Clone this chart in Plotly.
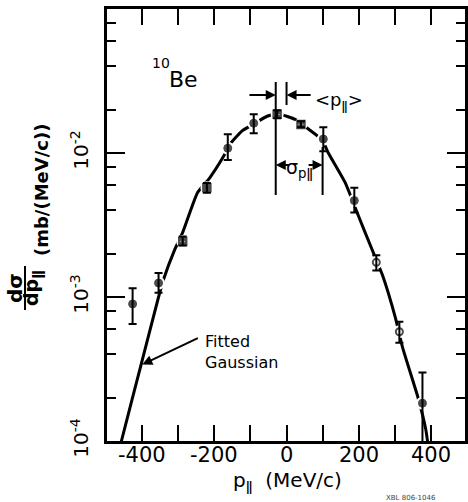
import numpy as np
import plotly.graph_objects as go

# ---- data ----
p_par = [-427, -355, -288, -221, -163, -91, -26, 40, 102, 188, 249, 313, 377]
dsig = [8.95e-4, 1.25e-3, 2.43e-3, 5.74e-3, 1.08e-2, 1.61e-2, 1.86e-2, 1.58e-2, 1.25e-2, 4.67e-3, 1.74e-3, 5.74e-4, 1.83e-4]
dsig_hi = [1.15e-3, 1.47e-3, 2.63e-3, 6.2e-3, 1.35e-2, 1.86e-2, 1.98e-2, 1.66e-2, 1.51e-2, 5.74e-3, 1.95e-3, 6.73e-4, 2.99e-4]
dsig_lo = [6.5e-4, 1.07e-3, 2.28e-3, 5.3e-3, 8.95e-3, 1.37e-2, 1.74e-2, 1.51e-2, 1.03e-2, 3.86e-3, 1.53e-3, 4.82e-4, 0.9e-4]
point_kind = ["dot", "dot", "sq", "sq", "dot", "dot", "sq", "sq", "dot", "dot", "open", "open", "dot"]

curve_x = [-462, -458, -402, -355, -341, -311, -288, -247, -213, -171, -157, -124, -93, -54, -32, -18,
           24, 57, 99, 116, 163, 199, 238, 266, 302, 322, 366, 386, 391, 395]
curve_y = [9.0e-5, 1.0e-4, 3.5e-4, 1.0e-3, 1.33e-3, 2.11e-3, 2.81e-3, 5.3e-3, 6.73e-3, 9.84e-3, 1.15e-2,
           1.42e-2, 1.58e-2, 1.80e-2, 1.86e-2, 1.86e-2, 1.71e-2, 1.49e-2, 1.23e-2, 1.0e-2, 6.2e-3,
           3.68e-3, 2.11e-3, 1.42e-3, 7.16e-4, 4.45e-4, 1.95e-4, 1.21e-4, 1.0e-4, 8.5e-5]

mean_p = -30
sigma_p = 130
arrow_target = (-400, 3.4e-4)

x_ticks = [-400, -200, 0, 200, 400]
x_ticktext = ["-400", "-200", "0", "200", "400"]
x_minor = [-300, -100, 100, 300]
y_ticks = [1e-4, 1e-3, 1e-2]
y_ticktext = ["10<sup>-4</sup>", "10<sup>-3</sup>", "10<sup>-2</sup>"]
y_minor = [m * d for d in (1e-4, 1e-3, 1e-2) for m in (2, 4, 6, 8)]

FONT = "DejaVu Sans"
PAR = "ǁ"
sym_map = {"dot": "circle", "sq": "square-x-open", "open": "circle-open"}
size_map = {"dot": 8, "sq": 7, "open": 7}
lw_map = {"dot": 1, "sq": 2.5, "open": 2}

fig = go.Figure()
fig.add_trace(go.Scatter(x=curve_x, y=curve_y, mode="lines",
                         line=dict(color="black", width=3, shape="spline", smoothing=0.5),
                         hoverinfo="skip", showlegend=False))
# white halos create the small breaks of the drawn curve at the points
fig.add_trace(go.Scatter(x=p_par, y=dsig, mode="markers",
                         marker=dict(color="white", size=13, symbol="circle"),
                         hoverinfo="skip", showlegend=False))
fig.add_trace(go.Scatter(
    x=p_par, y=dsig, mode="markers",
    marker=dict(color="black", size=[size_map[k] for k in point_kind],
                symbol=[sym_map[k] for k in point_kind],
                line=dict(color="black", width=[lw_map[k] for k in point_kind])),
    error_y=dict(type="data", symmetric=False,
                 array=list(np.array(dsig_hi) - np.array(dsig)),
                 arrayminus=list(np.array(dsig) - np.array(dsig_lo)),
                 color="black", thickness=2, width=4),
    showlegend=False))

fig.update_xaxes(range=[-498, 495], tickmode="array", tickvals=x_ticks, ticktext=x_ticktext,
                 showticklabels=False,
                 ticks="inside", ticklen=16, tickwidth=1.5, tickcolor="black",
                 minor=dict(tickmode="array", tickvals=x_minor, ticks="inside", ticklen=16,
                            tickwidth=1.5, tickcolor="black"),
                 showline=True, linewidth=2.5, linecolor="black", mirror="ticks",
                 showgrid=False, zeroline=False)
fig.update_yaxes(type="log", range=[-4, -1], tickmode="array", tickvals=y_ticks, ticktext=y_ticktext,
                 ticks="inside", ticklen=18, tickwidth=1.5, tickcolor="black", tickangle=-90,
                 minor=dict(tickmode="array", tickvals=y_minor, ticks="inside", ticklen=9,
                            tickwidth=1.5, tickcolor="black"),
                 showline=True, linewidth=2.5, linecolor="black", mirror="ticks",
                 showgrid=False, zeroline=False,
                 tickfont=dict(family=FONT, size=20, color="black"), ticklabelstandoff=8)

L, R, T, B = 107, 3, 9, 61
W, H = 468, 502
pw, ph = W - L - R, H - T - B


def px(xp):
    return (xp - L) / pw


def py(yp):
    return (H - B - yp) / ph


def txt(text, x, y, size, xanchor="center", yanchor="middle", angle=0, bold=False, color="black", align="center"):
    fig.add_annotation(text=text, x=px(x), y=py(y), xref="paper", yref="paper", showarrow=False,
                       xanchor=xanchor, yanchor=yanchor, textangle=angle, align=align,
                       font=dict(family=FONT, size=size, color=color,
                                 weight="bold" if bold else "normal"))


# x tick labels placed on the data axis
for tv, tt in zip(x_ticks, x_ticktext):
    fig.add_annotation(text=tt, x=tv, y=py(455), xref="x", yref="paper", showarrow=False,
                       xanchor="center", yanchor="middle",
                       font=dict(family=FONT, size=21, color="black"))

# isotope label
txt("10", 161, 63, 14)
txt("Be", 183, 79, 22)
# mean momentum label
txt("&lt;p<sub>" + PAR + "</sub>&gt;", 339, 101, 18)
# sigma label
txt("σ<sub>p" + PAR + "</sub>", 299, 154, 19, yanchor="top")
# fitted gaussian label
txt("Fitted<br>Gaussian", 203, 330, 16, xanchor="left", yanchor="top", align="left")
# axis titles
txt("p<sub>" + PAR + "</sub>  (MeV/c)", 287, 466, 20, yanchor="top")
txt("(mb/(MeV/c))", 41, 190, 18, angle=-90, bold=True)
txt("dσ", 15, 288, 20, angle=-90, bold=True)
txt("dp<sub>" + PAR + "</sub>", 33, 288, 19, angle=-90, bold=True)
fig.add_shape(type="line", xref="paper", yref="paper", x0=px(25), x1=px(25), y0=py(266), y1=py(310),
              line=dict(color="black", width=2))
txt("XBL 806-1046", 384, 492, 7, xanchor="left", yanchor="top", color="#444")

# mean / sigma construction lines
for xv, y0, y1 in [(mean_p, 195, 82), (0, 105, 82), (mean_p + sigma_p, 195, 147)]:
    fig.add_shape(type="line", xref="x", yref="paper", x0=xv, x1=xv, y0=py(y0), y1=py(y1),
                  line=dict(color="black", width=2))


def arrow(head_x, tail_x, yp):
    fig.add_annotation(x=head_x, y=py(yp), xref="x", yref="paper", ax=tail_x, ay=0,
                       axref="x", ayref="pixel", text="", showarrow=True,
                       arrowhead=2, arrowsize=1, arrowwidth=2, arrowcolor="black", standoff=0)


arrow(mean_p, -107, 95)
arrow(0, 71, 95)
arrow(mean_p, 10, 165)
arrow(mean_p + sigma_p, 57, 165)

# arrow to the fitted curve
fig.add_annotation(x=arrow_target[0], y=np.log10(arrow_target[1]), xref="x", yref="y",
                   ax=57, ay=-27, text="", showarrow=True, arrowhead=2, arrowsize=1,
                   arrowwidth=2, arrowcolor="black", standoff=0)

fig.update_layout(width=W, height=H, margin=dict(l=L, r=R, t=T, b=B, autoexpand=False),
                  paper_bgcolor="white", plot_bgcolor="white", showlegend=False,
                  font=dict(family=FONT, color="black"))

fig.write_html("out.html", config={"displayModeBar": False},
               post_script="document.body.style.margin='0';")
